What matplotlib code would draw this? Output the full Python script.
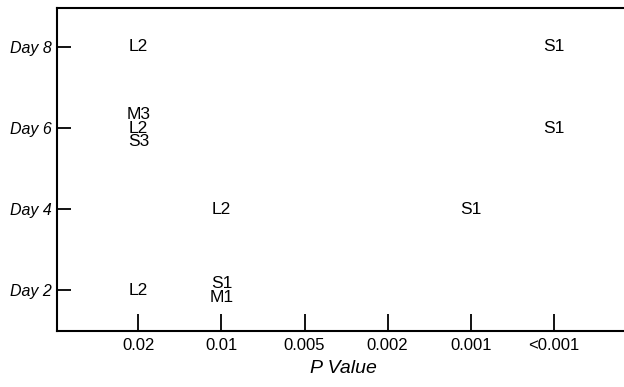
from matplotlib import pyplot as plt

# categories
p_labels = ["0.02", "0.01", "0.005", "0.002", "0.001", "<0.001"]
day_ticks = [2, 4, 6, 8]
day_labels = ["Day 2", "Day 4", "Day 6", "Day 8"]

# points: day, index into p_labels, text
pt_day = [8, 8, 6, 6, 4, 4, 2, 2]
pt_p = [0, 5, 0, 5, 1, 4, 0, 1]
pt_text = ["L2", "S1", "M3\nL2\nS3", "S1", "L2", "S1", "L2", "S1\nM1"]


def main():
    plt.rcParams['font.family'] = ['Liberation Sans', 'DejaVu Sans']
    fig = plt.figure(figsize=(6.24, 3.87), dpi=100)
    ax = fig.add_axes([57/624, 1 - 331/387, 1 - 57/624 + 0.01, (331 - 8)/387])

    xs = list(range(len(p_labels)))
    for d, p, t in zip(pt_day, pt_p, pt_text):
        ax.text(xs[p], d, t, ha="center", va="center", fontsize=12.5,
                linespacing=0.88, color="black")

    ax.set_xlim(-0.98, 5.92)
    ax.set_ylim(1.0, 8.96)
    ax.set_xticks(xs)
    ax.set_xticklabels(p_labels, fontsize=12)
    ax.set_yticks(day_ticks)
    ax.set_yticklabels(day_labels, fontsize=11.5, style="italic")
    ax.tick_params(axis="x", direction="in", length=12, width=1.3, pad=5)
    ax.tick_params(axis="y", direction="in", length=10, width=1.3, pad=4)
    ax.spines["right"].set_visible(False)
    for s in ["left", "bottom", "top"]:
        ax.spines[s].set_linewidth(1.5)
    ax.set_xlabel("P Value", fontsize=14, style="italic", labelpad=5)

    fig.savefig("out.png", dpi=100)


if __name__ == "__main__":
    main()
